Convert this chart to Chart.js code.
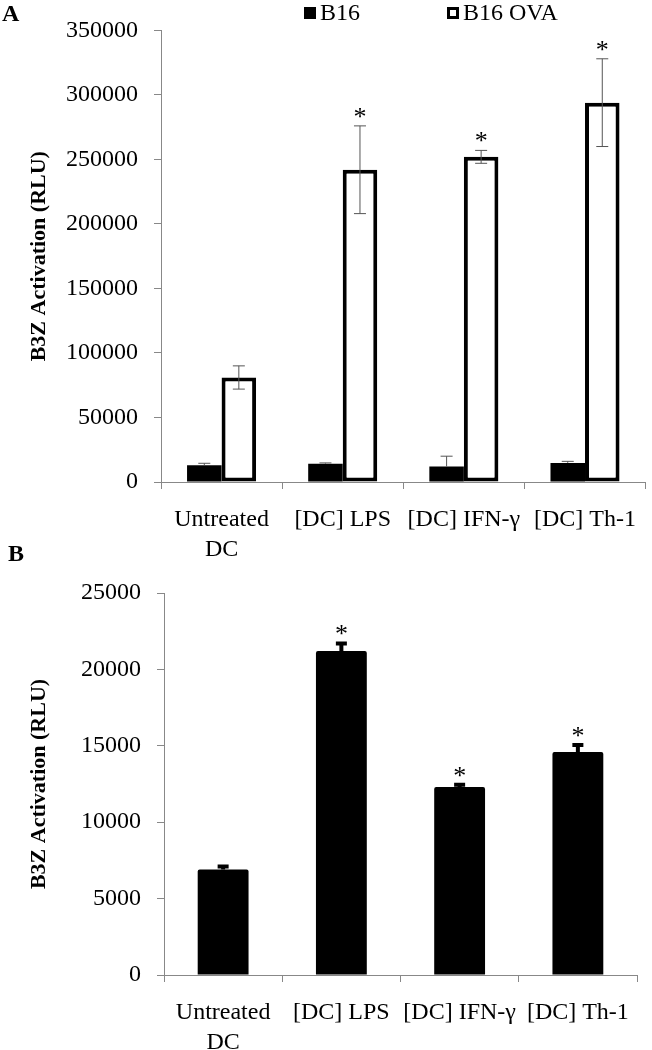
<!DOCTYPE html>
<html>
<head>
<meta charset="utf-8">
<script src="https://cdn.jsdelivr.net/npm/chart.js@4"></script>
<style>
  body { margin: 0; background: #fff; }
  #wrap { position: relative; width: 652px; height: 1050px; }
  canvas { position: absolute; left: 0; }
  #chartA { top: 0; }
  #chartB { top: 540px; }
</style>
</head>
<body>
<div id="wrap">
  <canvas id="chartA" width="652" height="570"></canvas>
  <canvas id="chartB" width="652" height="510"></canvas>
</div>
<script>
// categories shared by both panels
const categories = [['Untreated', 'DC'], '[DC] LPS', '[DC] IFN-γ', '[DC] Th-1'];

// panel A
const b16 = [13000, 14200, 12000, 14800];
const b16Err = [1500, 600, 8000, 1200];
const b16Ova = [81000, 242000, 252000, 294000];
const b16OvaErr = [9000, 34000, 5000, 34000];
const starsA = [false, true, true, true];
const ticksA = { min: 0, max: 350000, step: 50000 };

// panel B
const dcOnly = [6900, 21200, 12300, 14600];
const dcOnlyErr = [200, 500, 150, 450];
const starsB = [false, true, true, true];
const ticksB = { min: 0, max: 25000, step: 5000 };

const serif = '"Liberation Serif", "Times New Roman", serif';
Chart.defaults.font.family = serif;
Chart.defaults.font.size = 24;
Chart.defaults.color = '#000';

// error bars, significance stars and panel letter
const extras = {
  id: 'extras',
  afterDatasetsDraw(chart, args, opts) {
    const ctx = chart.ctx;
    const y = chart.scales.y;
    ctx.save();
    chart.data.datasets.forEach((ds, i) => {
      if (!ds.errors) return;
      const meta = chart.getDatasetMeta(i);
      meta.data.forEach((bar, j) => {
        const v = ds.data[j], e = ds.errors[j];
        const x = bar.x;
        const yTop = y.getPixelForValue(v + e);
        const yBot = ds.errorDown ? y.getPixelForValue(v - e) : y.getPixelForValue(v);
        ctx.strokeStyle = opts.errColor;
        ctx.lineWidth = opts.errWidth;
        ctx.beginPath();
        ctx.moveTo(x, yTop); ctx.lineTo(x, yBot);
        ctx.moveTo(x - opts.cap / 2, yTop); ctx.lineTo(x + opts.cap / 2, yTop);
        if (ds.errorDown) { ctx.moveTo(x - opts.cap / 2, yBot); ctx.lineTo(x + opts.cap / 2, yBot); }
        ctx.stroke();
        if (ds.stars && ds.stars[j]) {
          ctx.fillStyle = '#000';
          ctx.font = '26px ' + serif;
          ctx.textAlign = 'center';
          ctx.textBaseline = 'alphabetic';
          ctx.fillText('*', x, yTop - 1);
        }
      });
    });
    ctx.fillStyle = '#000';
    ctx.font = 'bold 24px ' + serif;
    ctx.textAlign = 'left';
    ctx.textBaseline = 'middle';
    ctx.fillText(opts.letter, opts.letterX, 15);
    ctx.restore();
  }
};

// hand-placed legend for panel A
const legendA = {
  id: 'legendA',
  afterDraw(chart) {
    const ctx = chart.ctx;
    const spots = [304, 447];
    ctx.save();
    ctx.font = '24px ' + serif;
    ctx.textBaseline = 'middle';
    ctx.textAlign = 'left';
    chart.data.datasets.forEach((ds, i) => {
      const x = spots[i];
      ctx.fillStyle = ds.backgroundColor;
      ctx.fillRect(x, 7, 12, 12);
      if (ds.borderWidth) {
        ctx.strokeStyle = ds.borderColor;
        ctx.lineWidth = 3;
        ctx.strokeRect(x + 1.5, 8.5, 9, 9);
      }
      ctx.fillStyle = '#000';
      ctx.fillText(ds.label, x + 16, 14);
    });
    ctx.restore();
  }
};

function axes(t, yWidth, xHeight) {
  return {
    x: {
      grid: { drawOnChartArea: false, drawTicks: true, tickLength: 7, color: '#888', offset: true },
      border: { display: true, color: '#888', width: 1 },
      ticks: { padding: 16, maxRotation: 0, autoSkip: false, font: { size: 24, lineHeight: 1.25 } },
      afterFit(s) { s.height = xHeight; }
    },
    y: {
      min: t.min, max: t.max,
      grid: { drawOnChartArea: false, drawTicks: true, tickLength: 7, color: '#888' },
      border: { display: true, color: '#888', width: 1 },
      ticks: { stepSize: t.step, padding: 16, callback: v => String(v) },
      title: { display: true, text: 'B3Z Activation (RLU)', font: { size: 22, weight: 'bold' }, padding: { top: 26, bottom: 0 } },
      afterFit(s) { s.width = yWidth; }
    }
  };
}

new Chart(document.getElementById('chartA'), {
  type: 'bar',
  data: {
    labels: categories,
    datasets: [
      { label: 'B16', data: b16, errors: b16Err, errorDown: false, backgroundColor: '#000', borderWidth: 0,
        categoryPercentage: 0.57, barPercentage: 1 },
      { label: 'B16 OVA', data: b16Ova, errors: b16OvaErr, errorDown: true, stars: starsA,
        backgroundColor: '#fff', borderColor: '#000', borderWidth: 4, borderSkipped: false,
        categoryPercentage: 0.57, barPercentage: 1 }
    ]
  },
  options: {
    responsive: false,
    animation: false,
    layout: { padding: { top: 24, left: 0, right: 0, bottom: 0 } },
    scales: axes(ticksA, 161, 88),
    plugins: {
      legend: { display: false },
      tooltip: { enabled: false },
      extras: { errColor: '#555', errWidth: 1, cap: 12, letter: 'A', letterX: 2 }
    }
  },
  plugins: [extras, legendA]
});

new Chart(document.getElementById('chartB'), {
  type: 'bar',
  data: {
    labels: categories,
    datasets: [
      { label: 'B16 OVA', data: dcOnly, errors: dcOnlyErr, errorDown: false, stars: starsB,
        backgroundColor: '#000', borderWidth: 0, borderRadius: 2,
        categoryPercentage: 0.43, barPercentage: 1 }
    ]
  },
  options: {
    responsive: false,
    animation: false,
    layout: { padding: { top: 53, left: 0, right: 15, bottom: 0 } },
    scales: axes(ticksB, 164, 75),
    plugins: {
      legend: { display: false },
      tooltip: { enabled: false },
      extras: { errColor: '#000', errWidth: 4, cap: 11, letter: 'B', letterX: 8 }
    }
  },
  plugins: [extras]
});
</script>
</body>
</html>
